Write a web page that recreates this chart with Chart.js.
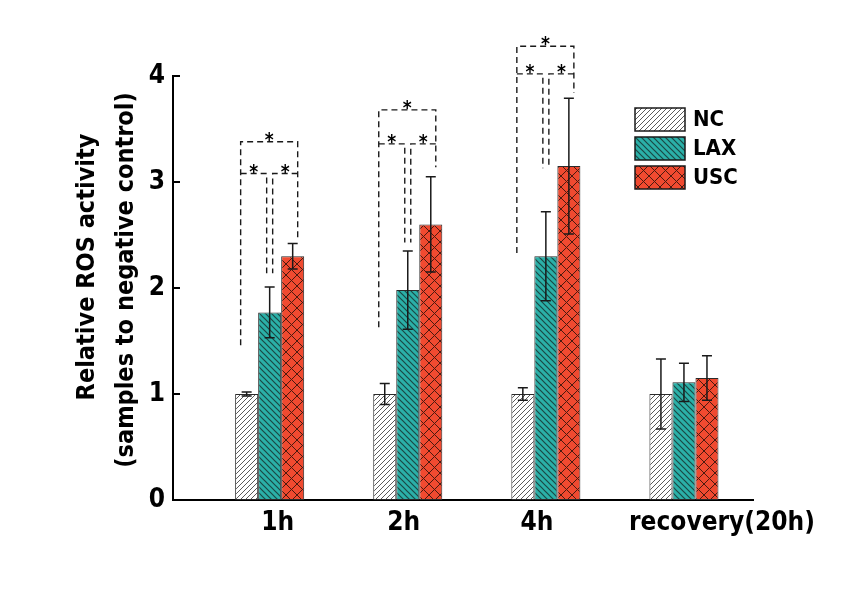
<!DOCTYPE html>
<html>
<head>
<meta charset="utf-8">
<script src="https://cdn.jsdelivr.net/npm/chart.js@4/dist/chart.umd.min.js"></script>
<style>
  html, body { margin: 0; padding: 0; background: #ffffff; }
  #wrap { width: 842px; height: 589px; }
</style>
</head>
<body>
<div id="wrap"><canvas id="chart" width="842" height="589"></canvas></div>
<script>
// Relative ROS activity per time point, mean and error
const categories = ['1h', '2h', '4h', 'recovery(20h)'];
const seriesNames = ['NC', 'LAX', 'USC'];
const ncValues  = [1.00, 1.00, 1.00, 1.00];
const laxValues = [1.77, 1.98, 2.30, 1.11];
const uscValues = [2.30, 2.60, 3.15, 1.15];
const ncErrors  = [0.02, 0.10, 0.06, 0.33];
const laxErrors = [0.24, 0.37, 0.42, 0.18];
const uscErrors = [0.12, 0.45, 0.64, 0.21];
const yTicks = [0, 1, 2, 3, 4];
const yTitleLines = ['Relative ROS activity', '(samples to negative control)'];

// Significance brackets (data units) for the 1h, 2h and 4h groups
const sigGroups = [0, 1, 2];
const sigTop    = [3.38, 3.68, 4.28];
const sigMid    = [3.08, 3.36, 4.02];
const sigLegNC  = [1.46, 1.63, 2.33];
const sigLegLAX = [2.14, 2.43, 3.13];
const sigLegUSC = [2.47, 3.14, 3.84];
const sigMark = '*';

// Style settings
const FONT = "'DejaVu Sans Condensed', 'DejaVu Sans', sans-serif";
const labelShift = [8, -4, -9, 38];   // horizontal nudge of category labels (px)
const TEAL = '#2bb0a8';
const RED = '#f04a30';

function stripePattern(bg, fg, size, dir, lw) {
  const c = document.createElement('canvas');
  c.width = size; c.height = size;
  const g = c.getContext('2d');
  g.fillStyle = bg; g.fillRect(0, 0, size, size);
  g.strokeStyle = fg; g.lineWidth = lw; g.lineCap = 'square';
  const diag = (d) => {
    g.beginPath();
    if (d > 0) {            // "/" direction
      g.moveTo(-1, size + 1); g.lineTo(size + 1, -1);
      g.moveTo(-1, 1); g.lineTo(1, -1);
      g.moveTo(size - 1, size + 1); g.lineTo(size + 1, size - 1);
    } else {                // "\" direction
      g.moveTo(-1, -1); g.lineTo(size + 1, size + 1);
      g.moveTo(size - 1, -1); g.lineTo(size + 1, 1);
      g.moveTo(-1, size - 1); g.lineTo(1, size + 1);
    }
    g.stroke();
  };
  if (dir === 'x') { diag(1); diag(-1); } else { diag(dir); }
  return g.createPattern(c, 'repeat');
}

const ncFill  = stripePattern('#ffffff', '#5a5a5a', 5, 1, 1);
const laxFill = stripePattern(TEAL, '#1b4845', 6, -1, 1.2);
const uscFill = stripePattern(RED, '#4a1a10', 11, 'x', 1);

const toPoints = (vals) => vals.map((v, i) => ({ x: i + 1, y: v }));

const datasets = [
  { label: seriesNames[0], data: toPoints(ncValues),  errors: ncErrors,  backgroundColor: ncFill },
  { label: seriesNames[1], data: toPoints(laxValues), errors: laxErrors, backgroundColor: laxFill },
  { label: seriesNames[2], data: toPoints(uscValues), errors: uscErrors, backgroundColor: uscFill }
].map(d => Object.assign(d, {
  borderColor: '#2a2a2a', borderWidth: 1, borderSkipped: false,
  categoryPercentage: 0.5, barPercentage: 1.0
}));

const decorations = {
  id: 'decorations',
  afterDatasetsDraw(chart) {
    const ctx = chart.ctx;
    const y = chart.scales.y;
    const area = chart.chartArea;
    ctx.save();
    // inner tick marks on the value axis
    ctx.strokeStyle = '#000'; ctx.lineWidth = 2;
    y.ticks.forEach(t => {
      if (t.value === 0) return;
      const py = Math.round(y.getPixelForValue(t.value));
      ctx.beginPath(); ctx.moveTo(area.left, py); ctx.lineTo(area.left + 7, py); ctx.stroke();
    });
    // error bars
    chart.data.datasets.forEach((ds, di) => {
      const meta = chart.getDatasetMeta(di);
      meta.data.forEach((bar, i) => {
        const v = ds.data[i].y, e = ds.errors[i];
        const top = y.getPixelForValue(v + e), bot = y.getPixelForValue(v - e);
        ctx.strokeStyle = '#1a1a1a'; ctx.lineWidth = 1.5;
        ctx.beginPath();
        ctx.moveTo(bar.x, top); ctx.lineTo(bar.x, bot);
        ctx.moveTo(bar.x - 5, top); ctx.lineTo(bar.x + 5, top);
        ctx.moveTo(bar.x - 5, bot); ctx.lineTo(bar.x + 5, bot);
        ctx.stroke();
      });
    });
    // significance brackets
    const bars = [0, 1, 2].map(di => chart.getDatasetMeta(di).data);
    ctx.strokeStyle = '#1a1a1a'; ctx.lineWidth = 1.4; ctx.setLineDash([6, 4]);
    const stars = [];
    sigGroups.forEach((g, k) => {
      const xNC = bars[0][g].x - 6, xL1 = bars[1][g].x - 3, xL2 = bars[1][g].x + 3, xU = bars[2][g].x + 5;
      const yTop = y.getPixelForValue(sigTop[k]), yMid = y.getPixelForValue(sigMid[k]);
      const yNC = y.getPixelForValue(sigLegNC[k]), yL = y.getPixelForValue(sigLegLAX[k]), yU = y.getPixelForValue(sigLegUSC[k]);
      ctx.beginPath();
      ctx.moveTo(xNC, yNC); ctx.lineTo(xNC, yTop); ctx.lineTo(xU, yTop); ctx.lineTo(xU, yU);
      ctx.moveTo(xNC, yMid); ctx.lineTo(xL1, yMid); ctx.lineTo(xL1, yL);
      ctx.moveTo(xU, yMid); ctx.lineTo(xL2, yMid); ctx.lineTo(xL2, yL);
      ctx.stroke();
      stars.push([(xNC + xU) / 2, yTop], [(xNC + xL1) / 2, yMid], [(xL2 + xU) / 2, yMid]);
    });
    ctx.setLineDash([]);
    ctx.fillStyle = '#000';
    ctx.font = 'bold 19px ' + FONT;
    ctx.textAlign = 'center'; ctx.textBaseline = 'alphabetic';
    stars.forEach(([sx, sy]) => ctx.fillText(sigMark, sx, sy + 4));
    ctx.restore();
  },
  afterDraw(chart) {
    const ctx = chart.ctx;
    const x = chart.scales.x;
    const area = chart.chartArea;
    ctx.save();
    ctx.fillStyle = '#000';
    // category labels
    ctx.font = 'bold 26px ' + FONT;
    ctx.textAlign = 'center'; ctx.textBaseline = 'middle';
    categories.forEach((c, i) => ctx.fillText(c, x.getPixelForValue(i + 1) + labelShift[i], area.bottom + 23));
    // value axis title
    ctx.font = 'bold 25px ' + FONT;
    [[87, 267], [126, 280]].forEach(([tx, ty], i) => {
      ctx.save(); ctx.translate(tx, ty); ctx.rotate(-Math.PI / 2);
      ctx.fillText(yTitleLines[i], 0, 0); ctx.restore();
    });
    // legend
    ctx.font = 'bold 22px ' + FONT;
    ctx.textAlign = 'left';
    chart.data.datasets.forEach((ds, i) => {
      const bx = 635, by = 108 + i * 29;
      ctx.fillStyle = ds.backgroundColor; ctx.fillRect(bx, by, 50, 23);
      ctx.strokeStyle = '#1a1a1a'; ctx.lineWidth = 1.5; ctx.strokeRect(bx, by, 50, 23);
      ctx.fillStyle = '#000'; ctx.fillText(ds.label, 693, by + 12);
    });
    ctx.restore();
  }
};

new Chart(document.getElementById('chart'), {
  type: 'bar',
  data: { datasets },
  options: {
    responsive: false,
    devicePixelRatio: 1,
    animation: false,
    layout: { padding: { top: 76, right: 89, left: 0, bottom: 0 } },
    plugins: { legend: { display: false }, tooltip: { enabled: false } },
    scales: {
      x: {
        type: 'linear', min: 0.3, max: 4.5, offset: false,
        grid: { display: false, drawTicks: false, offset: false },
        border: { display: true, color: '#000', width: 2 },
        ticks: { display: false },
        afterBuildTicks: s => { s.ticks = categories.map((c, i) => ({ value: i + 1 })); },
        afterFit: s => { s.height = 89; }
      },
      y: {
        min: 0, max: 4,
        grid: { display: false, drawTicks: false },
        border: { display: true, color: '#000', width: 2 },
        afterBuildTicks: s => { s.ticks = yTicks.map(v => ({ value: v })); },
        ticks: { color: '#000', padding: 8, font: { family: FONT, weight: 'bold', size: 26 } },
        afterFit: s => { s.width = 173; }
      }
    }
  },
  plugins: [decorations]
});
</script>
</body>
</html>
